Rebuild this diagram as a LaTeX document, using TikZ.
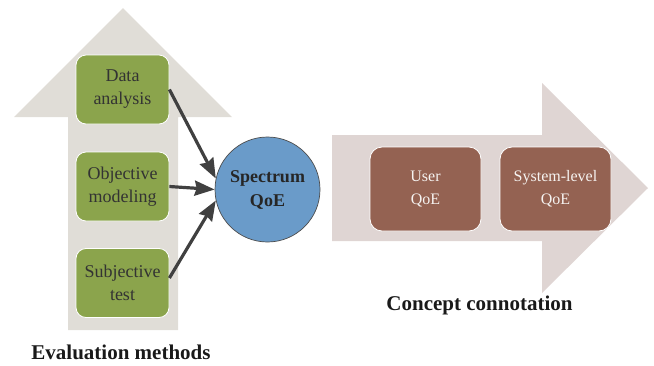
\documentclass[tikz,border=0pt]{standalone}
\usepackage{fontspec}
\setmainfont{Liberation Serif}
\usetikzlibrary{arrows.meta}
\definecolor{uparrow}{HTML}{E0DDD7}
\definecolor{rarrow}{HTML}{DFD5D3}
\definecolor{greenbox}{HTML}{8BA44C}
\definecolor{brownbox}{HTML}{946252}
\definecolor{bluecirc}{HTML}{6A9BC9}
\definecolor{arrowc}{HTML}{404040}
\begin{document}
\begin{tikzpicture}[x=1pt,y=-1pt,
  gbox/.style={rectangle, rounded corners=10pt, fill=greenbox, draw=white, line width=0.8pt,
    minimum width=93pt, minimum height=69pt, align=center, inner sep=0pt,
    font=\fontsize{18}{23}\selectfont, text=black!80},
  bbox/.style={rectangle, rounded corners=12pt, fill=brownbox, draw=white, line width=0.8pt,
    minimum width=111pt, minimum height=84pt, align=center, inner sep=0pt,
    font=\fontsize{16}{23}\selectfont, text=white!92!brownbox},
  qcirc/.style={circle, fill=bluecirc, draw=black!70, line width=0.7pt, minimum size=105pt,
    inner sep=0pt, align=center, font=\bfseries\fontsize{18}{24}\selectfont, text=black!85},
  conn/.style={draw=arrowc, line width=3.2pt, -{Triangle[length=20pt,width=15pt,inset=2pt]}},
  caption/.style={font=\bfseries\fontsize{21}{25}\selectfont, text=black!90}]
\useasboundingbox (0,0) rectangle (654,365);
\fill[uparrow] (68,330) -- (68,117) -- (14,117) -- (123,8) -- (232,117) -- (178,117) -- (178,330) -- cycle;
\fill[rarrow] (332,135) -- (542,135) -- (542,83) -- (648,188) -- (542,293) -- (542,241) -- (332,241) -- cycle;
\node[gbox] (da) at (122.5,89.5) {Data\\analysis};
\node[gbox] (om) at (122.5,186.5) {Objective\\modeling};
\node[gbox] (st) at (122.5,283) {Subjective\\test};
\node[qcirc] (sq) at (267.5,189.5) {Spectrum\\QoE};
\node[bbox] (uq) at (425.5,189) {User\\QoE};
\node[bbox] (sl) at (555.5,189) {System-level\\QoE};
\node[caption] (em) at (121,352) {Evaluation methods};
\node[caption] (cc) at (479.5,305) {Concept connotation};
\draw[conn] (da.east) -- (sq.168);
\draw[conn] (om.east) -- (sq.180);
\draw[conn] ([yshift=5pt]st.east) -- (sq.192);
\end{tikzpicture}
\end{document}
